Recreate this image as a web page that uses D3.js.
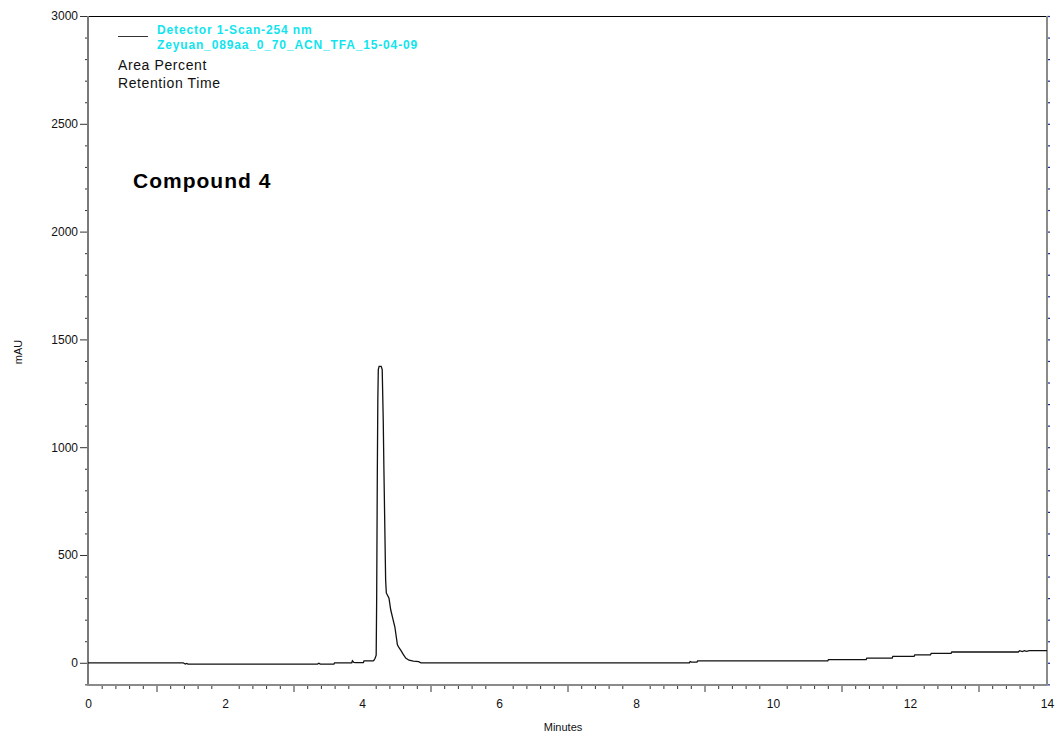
<!DOCTYPE html>
<html><head><meta charset="utf-8">
<script src="https://cdn.jsdelivr.net/npm/d3@7"></script>
<style>
html,body{margin:0;padding:0;background:#fff;}
svg{display:block;font-family:"Liberation Sans",Arial,sans-serif;}
</style></head>
<body>
<svg id="chart" width="1057" height="736"></svg>
<script>
// ---- data ----
const timeMin = [0, 1.39, 1.40, 1.42, 1.44, 1.46, 3.35, 3.37, 3.39, 3.59, 3.60, 3.85, 3.86, 3.88, 3.91, 4.02, 4.03, 4.16, 4.17, 4.19,
  4.207, 4.214, 4.224, 4.231, 4.238, 4.25, 4.28, 4.295, 4.31, 4.32, 4.345, 4.355, 4.394, 4.419, 4.45, 4.48, 4.517, 4.54, 4.565, 4.60,
  4.638, 4.686, 4.75, 4.827, 4.86, 8.78, 8.79, 8.81, 8.89, 8.90, 10.80, 10.81, 11.36, 11.37, 11.74, 11.75, 12.06, 12.07, 12.30, 12.31,
  12.60, 12.61, 13.58, 13.60, 13.64, 13.67, 13.70, 13.74, 14.0];
const absMAU = [0, 0, -2, -6, -3, -6, -6, -2, -6, -6, 0, 0, 9, 2, 1, 1, 9, 9, 10, 20,
  35, 290, 895, 1220, 1360, 1375, 1375, 1360, 1127, 895, 385, 324, 300, 246, 205, 166, 83, 70, 59, 40,
  22, 12, 8, 5, 0, 0, 6, 3, 3, 9, 9, 15, 15, 22, 22, 30, 30, 37, 37, 44,
  44, 50, 50, 56, 52, 56, 53, 56, 56];
const xTickLabels = [0, 2, 4, 6, 8, 10, 12, 14];
const yTickLabels = [0, 500, 1000, 1500, 2000, 2500, 3000];
const legendLines = ["Detector 1-Scan-254 nm", "Zeyuan_089aa_0_70_ACN_TFA_15-04-09"];
const infoLines = ["Area Percent", "Retention Time"];
const annotation = "Compound 4";

// ---- layout ----
const svg = d3.select("#chart");
const L = 88, R = 1047, T = 16, B = 685;
const x = d3.scaleLinear().domain([0, 14]).range([L, R]);
const y = d3.scaleLinear().domain([-103, 3000]).range([B, T]);

// frame: top black line
svg.append("line").attr("x1", L).attr("x2", R).attr("y1", T + 0.5).attr("y2", T + 0.5)
  .attr("stroke", "#000").attr("stroke-width", 1);

// right axis with blue outward ticks
const rAxis = svg.append("g").attr("transform", `translate(${R},0)`)
  .call(d3.axisRight(y).tickValues(d3.range(-100, 3001, 100)).tickSize(3).tickFormat(""));
rAxis.select(".domain").remove();
rAxis.selectAll(".tick line").attr("stroke", "#1a2a9a").attr("stroke-width", 1.2);
svg.append("line").attr("x1", R).attr("x2", R).attr("y1", T).attr("y2", B)
  .attr("stroke", "#8a8a8a").attr("stroke-width", 2);

// left axis: minor ticks
const lMinor = svg.append("g").attr("transform", `translate(${L},0)`)
  .call(d3.axisLeft(y).tickValues(d3.range(-100, 3001, 100).filter(v => v % 500 !== 0)).tickSize(3).tickFormat(""));
lMinor.select(".domain").remove();
lMinor.selectAll(".tick line").attr("stroke", "#333");
// left axis: major ticks + labels
const lMajor = svg.append("g").attr("transform", `translate(${L},0)`)
  .call(d3.axisLeft(y).tickValues(yTickLabels).tickSize(8).tickPadding(2).tickFormat(d3.format("d")));
lMajor.select(".domain").remove();
lMajor.selectAll(".tick line").attr("stroke", "#333");
lMajor.selectAll(".tick text").attr("font-size", 12).attr("fill", "#111")
  .attr("font-family", "'Liberation Sans',Arial,sans-serif");
svg.append("line").attr("x1", L).attr("x2", L).attr("y1", T).attr("y2", B + 1)
  .attr("stroke", "#7a7a7a").attr("stroke-width", 2);

// bottom axis: minor and major ticks
const minorX = d3.range(0, 71).map(i => i / 5).filter(v => Math.abs(v - Math.round(v)) > 1e-6);
const bMinor = svg.append("g").attr("transform", `translate(0,${B})`)
  .call(d3.axisBottom(x).tickValues(minorX).tickSize(4).tickFormat(""));
bMinor.select(".domain").remove();
bMinor.selectAll(".tick line").attr("stroke", "#333");
const oddX = d3.range(1, 14, 2);
const bOdd = svg.append("g").attr("transform", `translate(0,${B})`)
  .call(d3.axisBottom(x).tickValues(oddX).tickSize(7).tickFormat(""));
bOdd.select(".domain").remove();
bOdd.selectAll(".tick line").attr("stroke", "#333");
const bMajor = svg.append("g").attr("transform", `translate(0,${B})`)
  .call(d3.axisBottom(x).tickValues(xTickLabels).tickSize(0).tickPadding(14).tickFormat(d3.format("d")));
bMajor.select(".domain").remove();
bMajor.selectAll(".tick text").attr("font-size", 12).attr("fill", "#111")
  .attr("font-family", "'Liberation Sans',Arial,sans-serif");
svg.append("line").attr("x1", L - 1).attr("x2", R).attr("y1", B).attr("y2", B)
  .attr("stroke", "#8a8a8a").attr("stroke-width", 2);

// axis titles
svg.append("text").attr("x", 563).attr("y", 731).attr("text-anchor", "middle")
  .attr("font-size", 11).attr("fill", "#111").text("Minutes");
svg.append("text").attr("transform", "translate(22,352) rotate(-90)").attr("text-anchor", "middle")
  .attr("font-size", 11).attr("fill", "#111").text("mAU");

// trace
const data = timeMin.map((t, i) => [t, absMAU[i]]);
svg.append("path").datum(data)
  .attr("d", d3.line().x(d => x(d[0])).y(d => y(d[1])))
  .attr("fill", "none").attr("stroke", "#111").attr("stroke-width", 1.3);

// legend
svg.append("line").attr("x1", 118).attr("x2", 148).attr("y1", 36.5).attr("y2", 36.5)
  .attr("stroke", "#333").attr("stroke-width", 1);
legendLines.forEach((s, i) => {
  svg.append("text").attr("x", 157).attr("y", 34 + i * 14.5)
    .attr("font-size", 12).attr("font-weight", "bold").attr("letter-spacing", 0.85)
    .attr("fill", "#10e4ee").text(s);
});
infoLines.forEach((s, i) => {
  svg.append("text").attr("x", 118).attr("y", 70 + i * 18)
    .attr("font-size", 14).attr("letter-spacing", 0.6).attr("fill", "#111").text(s);
});

// annotation
svg.append("text").attr("x", 133).attr("y", 188)
  .attr("font-size", 21).attr("font-weight", "bold").attr("letter-spacing", 1)
  .attr("fill", "#000").text(annotation);
</script>
</body></html>
